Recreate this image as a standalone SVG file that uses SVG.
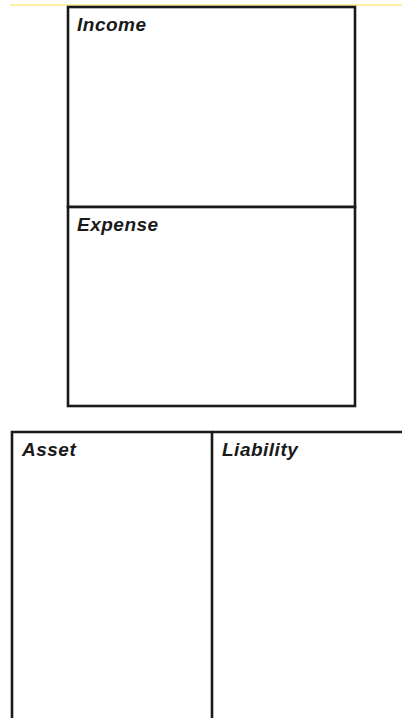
<svg xmlns="http://www.w3.org/2000/svg" width="402" height="718" viewBox="0 0 402 718">
<style>
.box{fill:#ffffff;stroke:#1a1a1a;stroke-width:2.6}
.ln{stroke:#1a1a1a;stroke-width:2.6;fill:none}
.lbl{font-family:"Liberation Sans",Arial,sans-serif;font-weight:bold;font-style:italic;font-size:19px;letter-spacing:0.5px;fill:#1a1a1a}
</style>
<rect width="402" height="718" fill="#ffffff"/>
<line x1="10" y1="5" x2="402" y2="5" stroke="#fbf2a0" stroke-width="2"/>
<g id="income">
<rect class="box" x="68" y="7" width="287" height="200"/>
<text class="lbl" x="77" y="31">Income</text>
</g>
<g id="expense">
<rect class="box" x="68" y="207" width="287" height="199"/>
<text class="lbl" x="77" y="231">Expense</text>
</g>
<g id="asset">
<path class="ln" d="M12,718 V432 H212 V718"/>
<text class="lbl" x="22" y="456">Asset</text>
</g>
<g id="liability">
<path class="ln" d="M212,432 H402"/>
<text class="lbl" x="222" y="456">Liability</text>
</g>
<g id="connectors"></g>
</svg>
